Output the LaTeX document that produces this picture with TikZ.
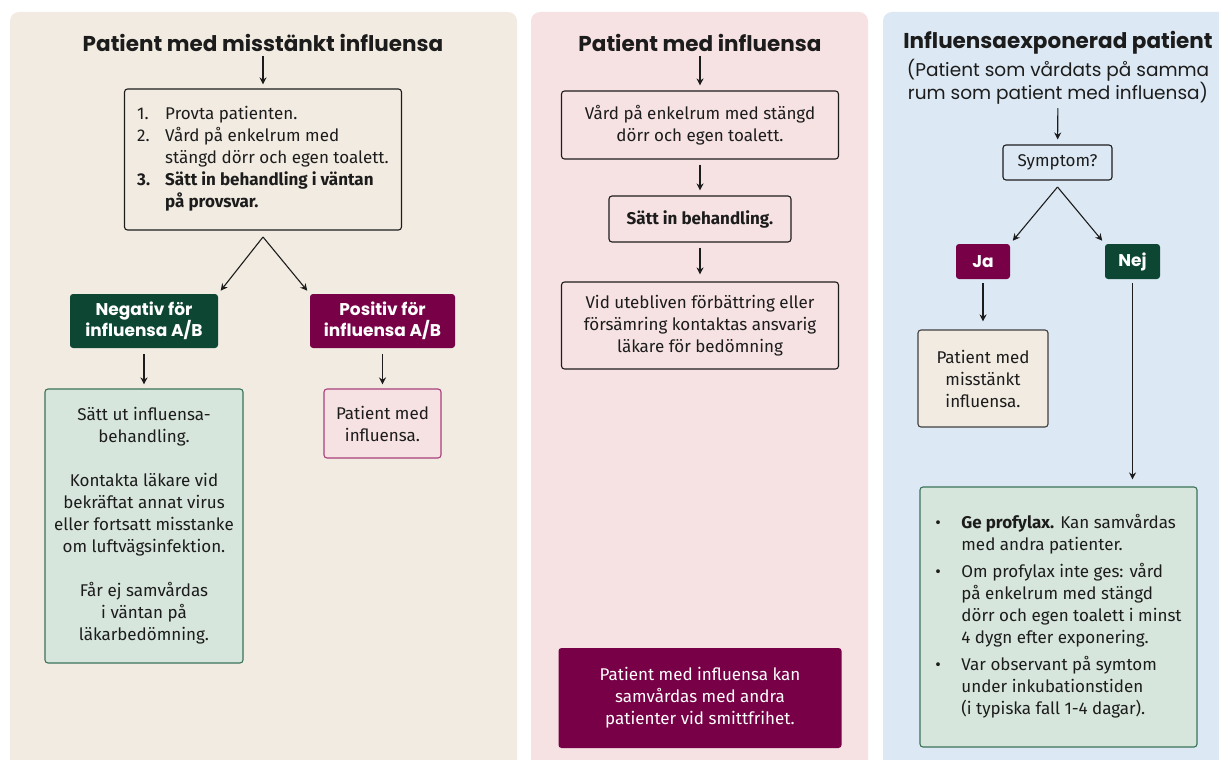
\documentclass[tikz,border=0pt]{standalone}
\usepackage{fontspec}
\setmainfont{Fira Sans}
\newfontfamily\headfont{Poppins}[BoldFont={Poppins Bold}]
\usetikzlibrary{positioning,arrows.meta}

\definecolor{beigebg}{HTML}{F2EBE1}
\definecolor{pinkbg}{HTML}{F6E1E3}
\definecolor{bluebg}{HTML}{DCE8F3}
\definecolor{darkgreen}{HTML}{0E4634}
\definecolor{wine}{HTML}{780047}
\definecolor{mintfill}{HTML}{D7E6DC}
\definecolor{mintline}{HTML}{3A7358}
\definecolor{roseline}{HTML}{A8407A}
\definecolor{inkblack}{HTML}{1C1C1C}

\begin{document}
\begin{tikzpicture}[x=1pt, y=-1pt, text=inkblack,
    panel/.style={rounded corners=9pt},
    heading/.style={font=\headfont\bfseries\fontsize{21.5}{25}\selectfont, inner sep=1pt},
    subheading/.style={font=\headfont\fontsize{18.5}{22}\selectfont, align=center, inner sep=1pt},
    flowbox/.style={draw=inkblack, line width=1.1pt, rounded corners=3pt, align=center, inner sep=0pt, font=\fontsize{17}{22}\selectfont},
    tagbox/.style={fill=#1, rounded corners=3pt, align=center, inner sep=0pt, text=white, font=\headfont\bfseries\fontsize{17}{21}\selectfont},
    arr/.style={-{Stealth[length=7pt,width=7pt]}, line width=1.1pt, draw=inkblack},
]
    \useasboundingbox (0,0) rectangle (1219,760);

    % Background panels
    \fill[beigebg, panel] (10,12) rectangle (517,790);
    \fill[pinkbg, panel] (531,12) rectangle (868,790);
    \fill[bluebg, panel] (883,12) rectangle (1240,790);

    % Suspected influenza
    \node[heading] (title1) at (263,43) {Patient med misstänkt influensa};
    \node[flowbox, fill=beigebg, minimum width=277pt, minimum height=141pt] (steps) at (263,159.5) {%
        \begin{tabular}{@{}p{28pt}@{}l@{}}
        1. & Provta patienten.\\
        2. & Vård på enkelrum med\\
           & stängd dörr och egen toalett.\\
        \textbf{3.} & \textbf{Sätt in behandling i väntan}\\
           & \textbf{på provsvar.}
        \end{tabular}};
    \coordinate (split1) at (263,237);
    \node[tagbox=darkgreen, minimum width=148pt, minimum height=54pt] (neg) at (144,321) {Negativ för\\influensa A/B};
    \node[tagbox=wine, minimum width=145pt, minimum height=54pt] (pos) at (382.5,321) {Positiv för\\influensa A/B};
    \node[flowbox, draw=mintline, fill=mintfill, minimum width=198pt, minimum height=274pt] (stopcare) at (144,526) {%
        Sätt ut influensa-\\behandling.\\[22pt]
        Kontakta läkare vid\\bekräftat annat virus\\eller fortsatt misstanke\\om luftvägsinfektion.\\[22pt]
        Får ej samvårdas\\i väntan på\\läkarbedömning.};
    \node[flowbox, draw=roseline, fill=pinkbg, minimum width=117pt, minimum height=69pt] (posresult) at (382.5,423.5) {Patient med\\influensa.};

    \draw[arr, shorten >=4pt, shorten <=3pt] (title1) -- (steps);
    \draw[arr, shorten >=4pt] (split1) -- (neg.north east);
    \draw[arr, shorten >=4pt] (split1) -- (pos.north west);
    \draw[arr, shorten <=6pt, shorten >=4pt] (neg) -- (stopcare);
    \draw[arr, shorten <=6pt, shorten >=4pt] (pos) -- (posresult);

    % Confirmed influenza
    \node[heading] (title2) at (700,43) {Patient med influensa};
    \node[flowbox, fill=pinkbg, minimum width=277pt, minimum height=68pt] (isolate) at (700,125) {Vård på enkelrum med stängd\\dörr och egen toalett.};
    \node[flowbox, fill=pinkbg, minimum width=182pt, minimum height=46pt, font=\bfseries\fontsize{17}{22}\selectfont] (treat) at (700,219) {Sätt in behandling.};
    \node[flowbox, fill=pinkbg, minimum width=277pt, minimum height=87pt] (assess) at (700,325.5) {Vid utebliven förbättring eller\\försämring kontaktas ansvarig\\läkare för bedömning};
    \node[flowbox, draw=none, fill=wine, text=white, minimum width=283pt, minimum height=100pt] (cohort) at (700,698) {Patient med influensa kan\\samvårdas med andra\\patienter vid smittfrihet.};

    \draw[arr, shorten >=5pt, shorten <=3pt] (title2) -- (isolate);
    \draw[arr, shorten <=5pt, shorten >=5pt] (isolate) -- (treat);
    \draw[arr, shorten <=5pt, shorten >=7pt] (treat) -- (assess);

    % Exposed patient
    \node[heading] (title3) at (1058,43) {Influensaexponerad patient};
    \node[subheading, below=2pt of title3] (subtitle3) {(Patient som vårdats på samma\\rum som patient med influensa)};
    \node[flowbox, fill=bluebg, minimum width=109pt, minimum height=35pt] (symptom) at (1057.5,162.5) {Symptom?};
    \coordinate (split3) at (1057.5,187);
    \node[tagbox=wine, minimum width=54pt, minimum height=35pt] (yes) at (983,261.5) {Ja};
    \node[tagbox=darkgreen, minimum width=55pt, minimum height=35pt] (no) at (1132.5,261.5) {Nej};
    \node[flowbox, draw=black!75, fill=beigebg, minimum width=130pt, minimum height=97pt] (suspect) at (983,378.5) {Patient med\\misstänkt\\influensa.};
    \node[flowbox, draw=mintline, fill=mintfill, minimum width=277pt, minimum height=260pt] (prophylaxis) at (1058.5,617) {%
        \begin{tabular}{@{}p{26pt}@{}l@{}}
        \textbullet & \textbf{Ge profylax.} Kan samvårdas\\
                    & med andra patienter.\\[5pt]
        \textbullet & Om profylax inte ges: vård\\
                    & på enkelrum med stängd\\
                    & dörr och egen toalett i minst\\
                    & 4 dygn efter exponering.\\[5pt]
        \textbullet & Var observant på symtom\\
                    & under inkubationstiden\\
                    & (i typiska fall 1-4 dagar).
        \end{tabular}};

    \draw[arr, shorten >=5pt, shorten <=3pt] (subtitle3) -- (symptom);
    \draw[arr, shorten >=4pt] (split3) -- (yes.north east);
    \draw[arr, shorten >=4pt] (split3) -- (no.north west);
    \draw[arr, shorten <=4pt, shorten >=8pt] (yes) -- (suspect);
    \draw[arr, shorten <=4pt, shorten >=7pt] (no) -- (prophylaxis.north -| no);
\end{tikzpicture}
\end{document}
